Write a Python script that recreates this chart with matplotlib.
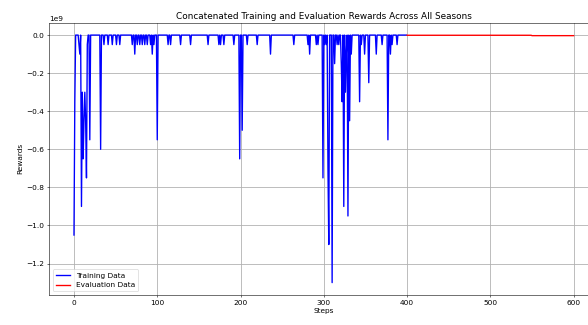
import numpy as np
import matplotlib
matplotlib.use("Agg")
import matplotlib.pyplot as plt

# Training rewards: steps 0..399, flat near zero except for the listed dips
train_steps = np.arange(0, 400)
dip_steps = [0, 1, 6, 7, 9, 10, 11, 12, 13, 14, 15, 16, 19, 32,
             36, 41, 46, 51, 55,
             70, 73, 76, 79, 82, 85, 88, 92, 94, 96, 100,
             113, 116, 128, 140, 161, 174, 176, 180, 192, 199, 202, 208,
             220, 236, 264, 281, 283, 291, 293, 299, 301, 303, 305, 306,
             310, 313, 316, 318, 321, 322, 324, 326, 327, 329, 331, 333,
             343, 345, 349, 354, 363, 370, 377, 380, 382, 388]
dip_values = [-1.05, -0.35, -0.05, -0.10, -0.90, -0.30, -0.65, -0.45, -0.30, -0.45, -0.75, -0.05, -0.55, -0.60,
              -0.05, -0.05, -0.05, -0.05, -0.05,
              -0.05, -0.10, -0.05, -0.05, -0.05, -0.05, -0.05, -0.05, -0.10, -0.05, -0.55,
              -0.05, -0.05, -0.05, -0.05, -0.05, -0.05, -0.05, -0.05, -0.05, -0.65, -0.50, -0.05,
              -0.05, -0.10, -0.05, -0.05, -0.10, -0.05, -0.05, -0.75, -0.05, -0.05, -0.70, -1.10,
              -1.30, -0.15, -0.05, -0.05, -0.15, -0.35, -0.90, -0.30, -0.10, -0.95, -0.45, -0.10,
              -0.35, -0.05, -0.10, -0.25, -0.10, -0.05, -0.55, -0.10, -0.05, -0.05]

# Evaluation rewards: steps 400..600, essentially flat just below zero
eval_steps = np.arange(400, 601)
eval_level_early = -0.001
eval_level_late = -0.003
eval_switch_step = 550

train_rewards = np.zeros(len(train_steps))
for s, v in zip(dip_steps, dip_values):
    train_rewards[s] = v * 1e9

eval_rewards = np.where(eval_steps < eval_switch_step,
                        eval_level_early, eval_level_late) * 1e9

plt.rcParams["font.size"] = 10.8

fig = plt.figure(figsize=(12, 325 / 49), dpi=49)
ax = fig.add_axes([49 / 588, 30 / 325, 549.6 / 588, 272.3 / 325])

ax.plot(train_steps, train_rewards, color="blue", linewidth=2.0, label="Training Data")
ax.plot(eval_steps, eval_rewards, color="red", linewidth=2.0, label="Evaluation Data")

ax.set_title("Concatenated Training and Evaluation Rewards Across All Seasons", fontsize=13)
ax.set_xlabel("Steps")
ax.set_ylabel("Rewards")
ax.grid(True, linewidth=1.2)
ax.legend(loc="lower left")

fig.savefig("out.png", dpi=49)
